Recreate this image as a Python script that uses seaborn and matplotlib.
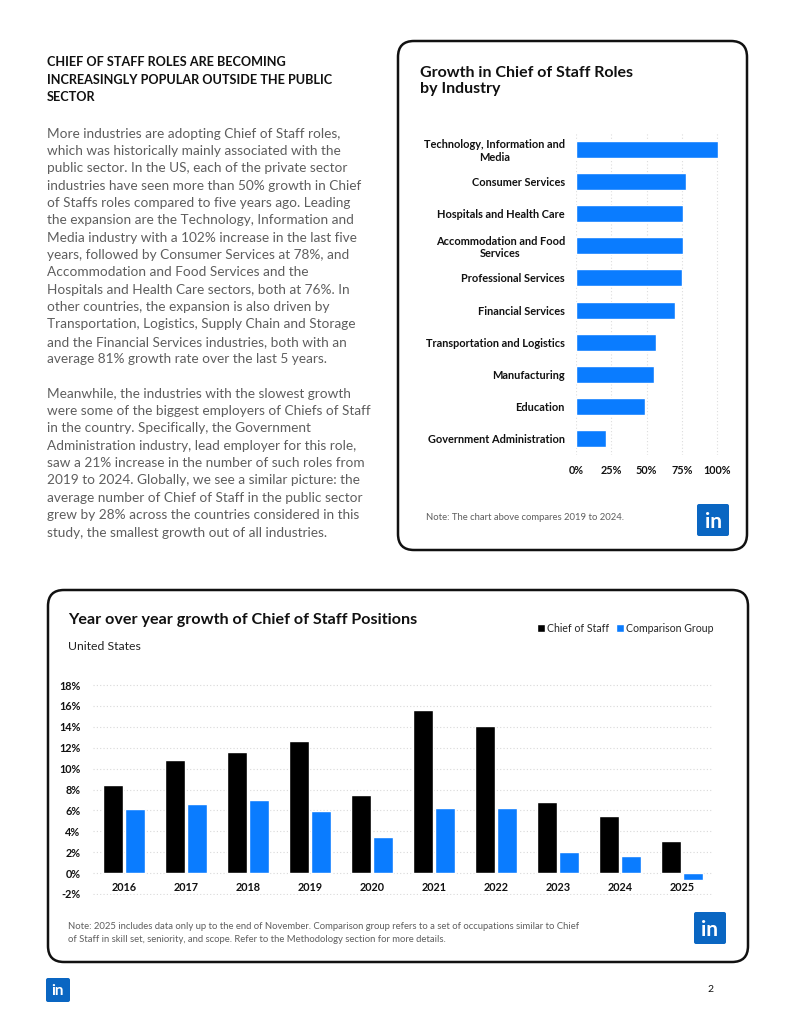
#!/usr/bin/env python3
"""Chief of Staff growth page: industry bars and year-over-year bars."""

import matplotlib
matplotlib.use("Agg")
import matplotlib.pyplot as plt
from matplotlib.patches import FancyBboxPatch
from matplotlib.ticker import FuncFormatter
import pandas as pd
import seaborn as sns

# --- data -------------------------------------------------------------
industries = [
    "Technology, Information and\nMedia",
    "Consumer Services",
    "Hospitals and Health Care",
    "Accommodation and Food\nServices",
    "Professional Services",
    "Financial Services",
    "Transportation and Logistics",
    "Manufacturing",
    "Education",
    "Government Administration",
]
industry_growth = [101, 78, 76, 76, 75, 70, 57, 55, 49, 21]

years = ["2016", "2017", "2018", "2019", "2020", "2021", "2022", "2023", "2024", "2025"]
chief_of_staff = [8.4, 10.8, 11.6, 12.6, 7.5, 15.6, 14.1, 6.8, 5.5, 3.1]
comparison_group = [6.1, 6.6, 7.0, 5.9, 3.5, 6.2, 6.2, 2.0, 1.6, -0.7]
series_names = ["Chief of Staff", "Comparison Group"]

BLUE = "#0a7cff"
LOGO = "#0a66c2"
GRAY = "#5e5e5e"
W, H = 800, 1035

sns.set_theme(style="white")
plt.rcParams["font.family"] = ["Lato", "DejaVu Sans"]

fig = plt.figure(figsize=(W / 100, H / 100), dpi=100)

# background layer in pixel coordinates (y down)
bg = fig.add_axes([0, 0, 1, 1])
bg.set_xlim(0, W)
bg.set_ylim(H, 0)
bg.axis("off")


def card(x0, y0, x1, y1):
    bg.add_patch(FancyBboxPatch((x0, y0), x1 - x0, y1 - y0,
                                boxstyle="round,pad=0,rounding_size=16",
                                fc="white", ec="#111111", lw=1.8))


def logo(x, y, size, fs):
    bg.add_patch(FancyBboxPatch((x, y), size, size,
                                boxstyle="round,pad=0,rounding_size=2",
                                fc=LOGO, ec="none"))
    bg.text(x + size / 2, y + size * 0.55, "in", color="white", fontsize=fs,
            fontweight="bold", ha="center", va="center")


card(398, 41, 747, 550)
card(48, 590, 748, 962)

# left text column
heading = ("CHIEF OF STAFF ROLES ARE BECOMING\n"
           "INCREASINGLY POPULAR OUTSIDE THE PUBLIC\n"
           "SECTOR")
bg.text(47, 56, heading, fontsize=9.1, fontweight="bold", color="#111111",
        va="top", linespacing=1.55)

body = (
    "More industries are adopting Chief of Staff roles,\n"
    "which was historically mainly associated with the\n"
    "public sector. In the US, each of the private sector\n"
    "industries have seen more than 50% growth in Chief\n"
    "of Staffs roles compared to five years ago. Leading\n"
    "the expansion are the Technology, Information and\n"
    "Media industry with a 102% increase in the last five\n"
    "years, followed by Consumer Services at 78%, and\n"
    "Accommodation and Food Services and the\n"
    "Hospitals and Health Care sectors, both at 76%. In\n"
    "other countries, the expansion is also driven by\n"
    "Transportation, Logistics, Supply Chain and Storage\n"
    "and the Financial Services industries, both with an\n"
    "average 81% growth rate over the last 5 years.\n"
    "\n"
    "Meanwhile, the industries with the slowest growth\n"
    "were some of the biggest employers of Chiefs of Staff\n"
    "in the country. Specifically, the Government\n"
    "Administration industry, lead employer for this role,\n"
    "saw a 21% increase in the number of such roles from\n"
    "2019 to 2024. Globally, we see a similar picture: the\n"
    "average number of Chief of Staff in the public sector\n"
    "grew by 28% across the countries considered in this\n"
    "study, the smallest growth out of all industries."
)
bg.text(47, 127.5, body, fontsize=9.8, color=GRAY, va="top", linespacing=1.535)

# top card text
bg.text(420, 66, "Growth in Chief of Staff Roles\nby Industry", fontsize=11.5,
        fontweight="bold", color="#111111", va="top", linespacing=1.15)
bg.text(426, 517, "Note: The chart above compares 2019 to 2024.", fontsize=6.8,
        color=GRAY, va="center")
logo(697, 504, 32, 15)

# bottom card text
bg.text(68, 620, "Year over year growth of Chief of Staff Positions", fontsize=11.6,
        fontweight="bold", color="#111111", va="center")
bg.text(68, 646, "United States", fontsize=8.8, color="#222222", va="center")
bg.text(68, 933, "Note: 2025 includes data only up to the end of November. Comparison group "
        "refers to a set of occupations similar to Chief\nof Staff in skill set, seniority, "
        "and scope. Refer to the Methodology section for more details.",
        fontsize=6.85, color=GRAY, va="center", linespacing=1.5)
logo(694, 912, 32, 15)

# footer
logo(46, 978, 24, 11)
bg.text(710, 990, "2", fontsize=7.5, color="#111111", va="center", ha="center")

# --- industry bar chart --------------------------------------------------
df_ind = pd.DataFrame({"industry": industries, "growth": industry_growth})
ax1 = fig.add_axes([576 / W, 1 - 455 / H, 146 / W, 322 / H])
sns.barplot(data=df_ind, x="growth", y="industry", color=BLUE, width=0.53,
            saturation=1, ax=ax1)
ax1.set_xlim(0, 103.5)
ax1.set_xticks([0, 25, 50, 75, 100])
ax1.xaxis.set_major_formatter(FuncFormatter(lambda v, _: f"{v:.0f}%"))
ax1.set_xlabel("")
ax1.set_ylabel("")
ax1.set_facecolor("none")
for s in ax1.spines.values():
    s.set_visible(False)
ax1.grid(axis="x", color="#dddddd", linestyle=(0, (1, 2)), lw=0.8)
ax1.set_axisbelow(True)
ax1.tick_params(axis="both", length=0)
ax1.tick_params(axis="y", pad=8, labelsize=7.9)
ax1.tick_params(axis="x", pad=7, labelsize=7.8)
for t in ax1.get_yticklabels() + ax1.get_xticklabels():
    t.set_fontweight("bold")
    t.set_color("#111111")
for t in ax1.get_yticklabels():
    t.set_multialignment("center")

# --- year over year chart ------------------------------------------------
df_yoy = pd.DataFrame({
    "year": years * 2,
    "growth": chief_of_staff + comparison_group,
    "series": [series_names[0]] * len(years) + [series_names[1]] * len(years),
})
ax2 = fig.add_axes([93 / W, 1 - 895 / H, 620 / W, 212 / H])
sns.barplot(data=df_yoy, x="year", y="growth", hue="series",
            palette=["#000000", BLUE], width=0.72, gap=0.08, saturation=1,
            legend=False, ax=ax2)
ax2.set_ylim(-2.1, 18.2)
ax2.set_xlim(-0.5, len(years) - 0.5)
ax2.set_yticks(range(-2, 19, 2))
ax2.yaxis.set_major_formatter(FuncFormatter(lambda v, _: f"{v:.0f}%"))
ax2.set_xlabel("")
ax2.set_ylabel("")
ax2.set_facecolor("none")
for s in ax2.spines.values():
    s.set_visible(False)
ax2.spines["bottom"].set_position(("data", 0))
ax2.grid(axis="y", color="#d9d9d9", linestyle=(0, (1, 2)), lw=0.8)
ax2.set_axisbelow(True)
ax2.tick_params(axis="both", length=0, labelsize=7.8)
ax2.tick_params(axis="x", pad=6.5)
ax2.tick_params(axis="y", pad=9)
for t in ax2.get_yticklabels() + ax2.get_xticklabels():
    t.set_fontweight("bold")
    t.set_color("#111111")

# legend, drawn from the same palette as the bars
handles = [plt.Rectangle((0, 0), 1, 1, fc=c) for c in ["#000000", BLUE]]
fig.legend(handles, series_names, loc="center right",
           bbox_to_anchor=(718 / W, 1 - 628 / H), ncol=2, frameon=False,
           fontsize=7.6, handlelength=0.75, handleheight=0.75, handletextpad=0.25,
           columnspacing=0.6, borderaxespad=0)

fig.savefig("out.png", dpi=100, facecolor="white")
